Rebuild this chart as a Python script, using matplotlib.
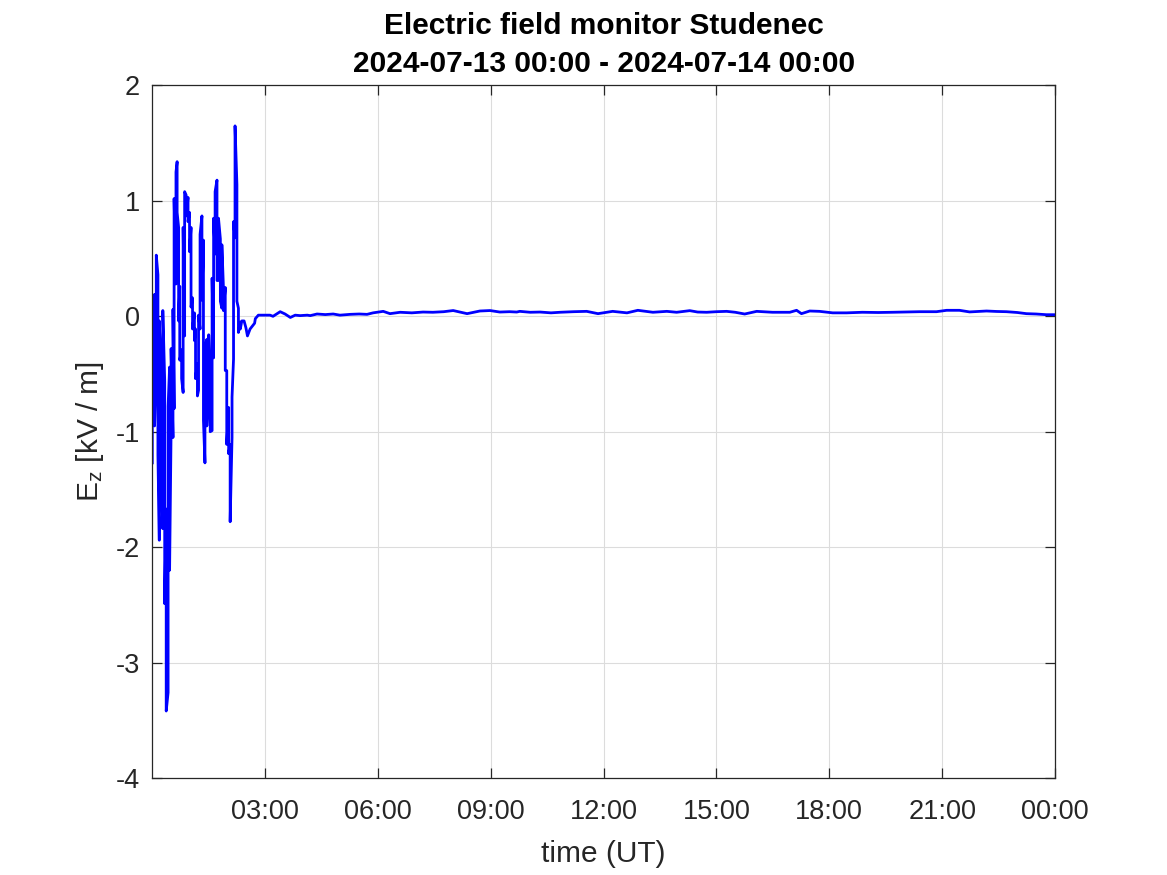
import numpy as np
import matplotlib
matplotlib.use('Agg')
import matplotlib.pyplot as plt

# time in hours after 2024-07-13 00:00 UT, Ez in kV/m
t_storm = [0.00, 0.00, 0.06, 0.06, 0.106, 0.106, 0.15, 0.15, 0.186, 0.186,
           0.23, 0.23, 0.28, 0.28, 0.33, 0.33, 0.37, 0.37, 0.42, 0.42,
           0.46, 0.46, 0.50, 0.50, 0.55, 0.55, 0.58, 0.58, 0.63, 0.63,
           0.66, 0.66, 0.70, 0.70, 0.73, 0.73, 0.78, 0.78, 0.82, 0.82,
           0.86, 0.86, 0.90, 0.90, 0.95, 0.95, 0.99, 0.99, 1.03, 1.03,
           1.07, 1.07, 1.12, 1.12, 1.15, 1.15, 1.20, 1.20, 1.23, 1.23,
           1.27, 1.27, 1.32, 1.32, 1.36, 1.36, 1.40, 1.40, 1.45, 1.45,
           1.50, 1.50, 1.54, 1.54, 1.59, 1.59, 1.63, 1.63, 1.67, 1.67,
           1.72, 1.72, 1.76, 1.76, 1.81, 1.81, 1.85, 1.85, 1.89, 1.89,
           1.94, 1.94, 1.98, 1.98, 2.03, 2.03, 2.07, 2.07, 2.12, 2.12,
           2.16, 2.16, 2.20, 2.20, 2.25, 2.25, 2.29, 2.29, 2.34, 2.34]
ez_storm = [-1.27, 0.11, 0.19, -0.95, -0.44, 0.53, 0.36, -1.20, -1.94, -0.04,
            -0.38, -1.30, -1.84, 0.05, -0.56, -2.49, -1.67, -3.42, -3.26, -0.78,
            -0.44, -2.20, -0.98, -0.28, -1.05, 0.06, -0.80, 1.02, 0.28, 1.25,
            1.34, 0.90, 0.77, -0.04, 0.26, -0.38, -0.29, -0.54, -0.66, 0.77,
            -0.17, 1.08, 1.05, 0.87, 1.03, 0.82, 0.90, 0.56, 0.77, 0.08,
            0.16, -0.11, 0.03, -0.21, -0.11, -0.54, -0.41, -0.69, -0.64, 0.01,
            -0.11, 0.71, 0.87, 0.14, 0.66, -0.90, -1.27, -0.27, -0.20, -0.95,
            -0.65, -0.16, -0.56, -1.00, -0.99, 0.33, -0.36, 0.85, 0.54, 1.08,
            1.18, 0.31, 0.31, 0.85, 0.67, 0.13, 0.07, 0.62, 0.26, 0.05,
            0.25, -0.47, -0.47, -1.11, -0.79, -1.19, -1.11, -1.78, -1.05, -0.70,
            -0.37, 0.82, 0.68, 1.65, 1.14, 0.13, 0.07, -0.14, -0.05, -0.11]

t_calm = [2.38, 2.44, 2.49, 2.53, 2.60, 2.72, 2.74, 2.82, 3.13, 3.21,
          3.40, 3.53, 3.67, 3.80, 3.93, 4.12, 4.20, 4.38, 4.60, 4.81,
          4.99, 5.26, 5.50, 5.71, 5.87, 6.14, 6.32, 6.59, 6.90, 7.20,
          7.46, 7.75, 8.00, 8.37, 8.71, 8.98, 9.24, 9.50, 9.69, 9.77,
          10.05, 10.31, 10.60, 10.84, 11.20, 11.55, 11.85, 12.24, 12.62, 12.91,
          13.31, 13.68, 13.94, 14.29, 14.50, 14.74, 15.00, 15.27, 15.50, 15.75,
          16.07, 16.49, 16.95, 17.13, 17.26, 17.48, 17.74, 18.09, 18.46, 18.88,
          19.30, 19.68, 20.05, 20.40, 20.85, 21.12, 21.46, 21.73, 22.18, 22.45,
          22.71, 23.00, 23.24, 23.50, 23.77, 24.00]
ez_calm = [-0.04, -0.04, -0.10, -0.17, -0.11, -0.06, -0.02, 0.01, 0.01, 0.00,
           0.04, 0.02, -0.01, 0.01, 0.006, 0.01, 0.006, 0.02, 0.015, 0.02,
           0.01, 0.017, 0.02, 0.017, 0.03, 0.043, 0.023, 0.035, 0.03, 0.037,
           0.035, 0.04, 0.05, 0.023, 0.046, 0.05, 0.037, 0.04, 0.037, 0.043,
           0.035, 0.037, 0.03, 0.035, 0.04, 0.043, 0.023, 0.043, 0.03, 0.052,
           0.035, 0.043, 0.035, 0.049, 0.037, 0.035, 0.04, 0.043, 0.035, 0.02,
           0.043, 0.035, 0.035, 0.052, 0.023, 0.046, 0.043, 0.03, 0.03, 0.035,
           0.033, 0.035, 0.038, 0.04, 0.04, 0.052, 0.052, 0.038, 0.046, 0.042,
           0.04, 0.033, 0.023, 0.02, 0.014, 0.014]

xticks = [3, 6, 9, 12, 15, 18, 21, 24]
xticklabels = ['03:00', '06:00', '09:00', '12:00', '15:00', '18:00', '21:00', '00:00']
yticks = [-4, -3, -2, -1, 0, 1, 2]

plt.rcParams['font.family'] = ['Liberation Sans', 'DejaVu Sans']
plt.rcParams['mathtext.default'] = 'regular'
plt.rcParams['axes.unicode_minus'] = False

fig = plt.figure(figsize=(11.67, 8.75), dpi=100)
ax = fig.add_axes([0.1305, 0.1109, 0.7735, 0.7914])

ax.plot(t_storm + t_calm, ez_storm + ez_calm, color='#0000ff', linewidth=2.0)

ax.set_xlim(0, 24)
ax.set_ylim(-4, 2)
ax.set_xticks(xticks)
ax.set_xticklabels(xticklabels)
ax.set_yticks(yticks)
ax.grid(True, color='#dcdcdc', linewidth=0.8)
ax.set_axisbelow(True)

txt = '#262626'
for s in ax.spines.values():
    s.set_color(txt)
    s.set_linewidth(0.9)
ax.tick_params(direction='in', length=7, width=0.9, colors=txt, labelsize=19.5,
               top=True, right=True)
ax.tick_params(axis='x', pad=15)
ax.tick_params(axis='y', pad=9)

ax.set_xlabel('time (UT)', fontsize=21.5, color=txt, labelpad=11)
ax.set_ylabel('E$_z$ [kV / m]', fontsize=21.5, color=txt, labelpad=7)
ax.set_title('Electric field monitor Studenec\n2024-07-13 00:00 - 2024-07-14 00:00',
             fontsize=21.5, fontweight='bold', color='black', pad=10,
             linespacing=1.45)

fig.savefig('out.png', dpi=100)
